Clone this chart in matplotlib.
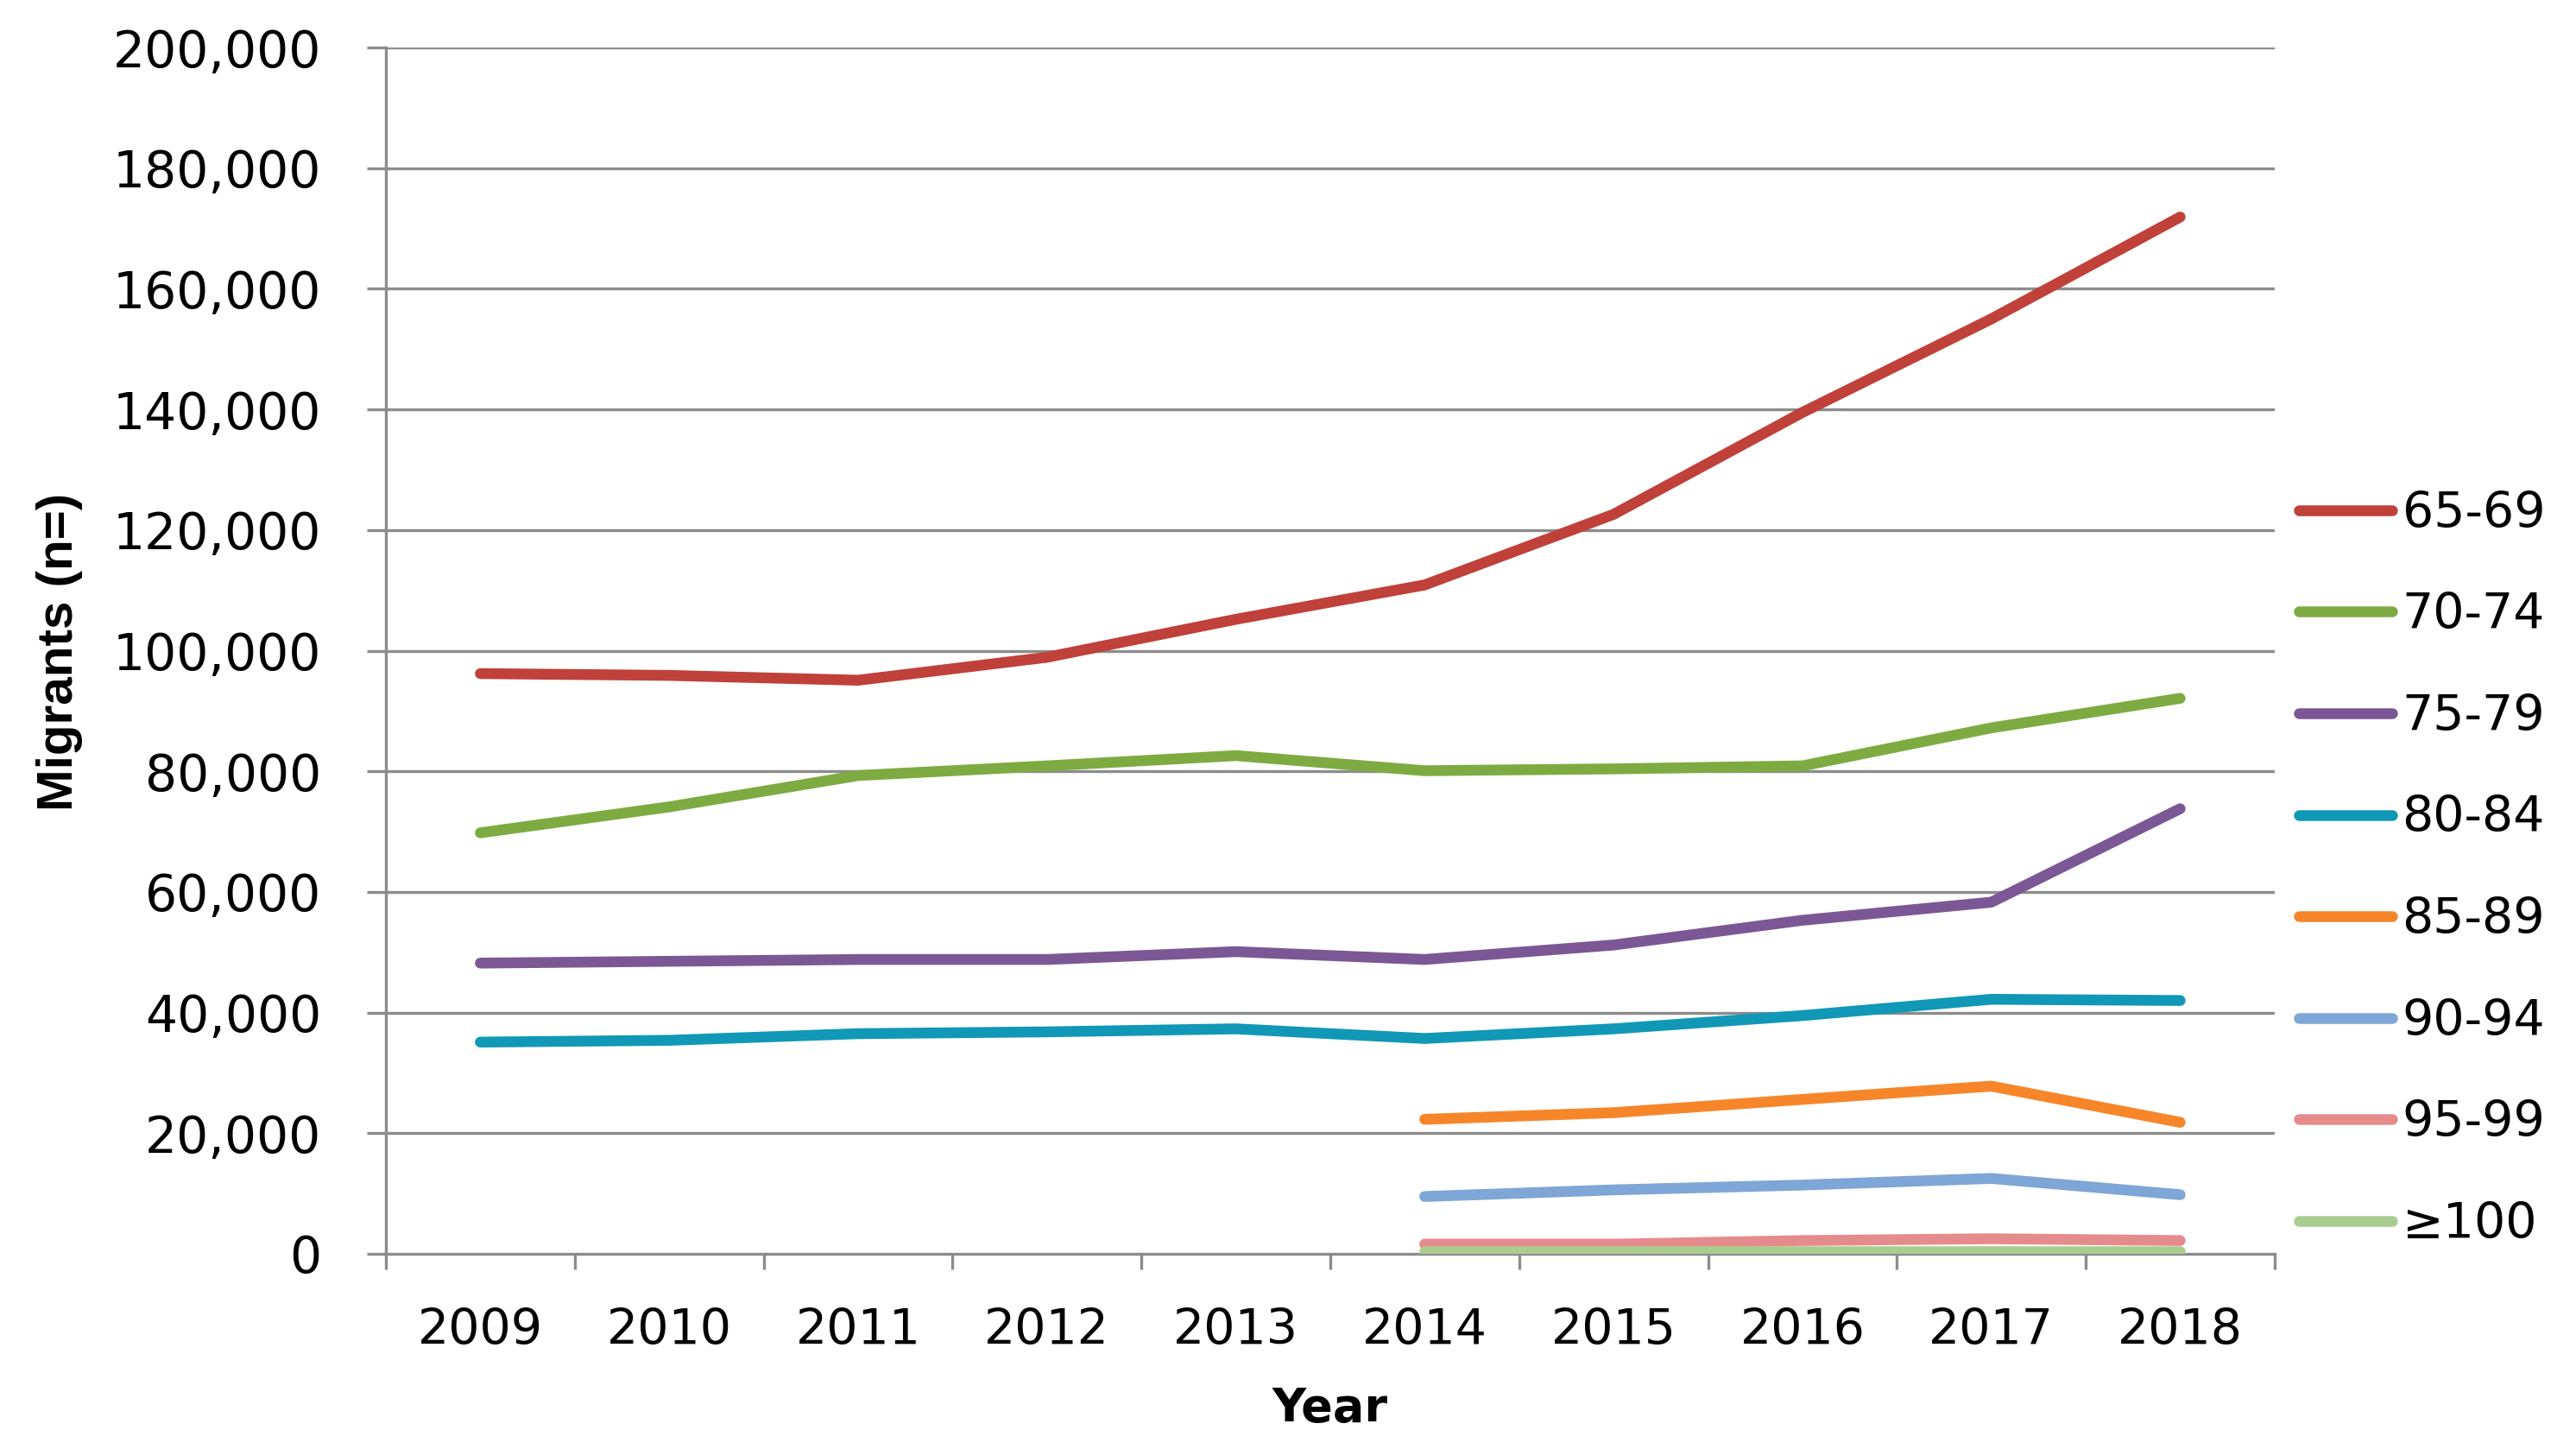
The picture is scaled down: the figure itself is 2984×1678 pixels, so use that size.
import matplotlib
matplotlib.use("Agg")
import matplotlib.pyplot as plt
from matplotlib.ticker import FuncFormatter, FixedLocator

years = [2009, 2010, 2011, 2012, 2013, 2014, 2015, 2016, 2017, 2018]
labels = ["65-69", "70-74", "75-79", "80-84", "85-89", "90-94", "95-99", "\u2265100"]
colors = ["#C0403A", "#7EAB41", "#7B5895", "#1098B6", "#F7862A", "#7EA6D6", "#E68B8C", "#A9CD8E"]

s65 = [96200, 95900, 95100, 98900, 105200, 110900, 122600, 139500, 155000, 171900]
s70 = [69800, 74100, 79300, 80900, 82600, 80100, 80400, 80900, 87200, 92100]
s75 = [48200, 48500, 48800, 48800, 50100, 48800, 51200, 55300, 58300, 73800]
s80 = [35100, 35400, 36500, 36800, 37300, 35700, 37300, 39500, 42200, 42000]
years_late = [2014, 2015, 2016, 2017, 2018]
s85 = [22300, 23400, 25600, 27800, 21800]
s90 = [9500, 10600, 11400, 12500, 9800]
s95 = [1600, 1600, 2200, 2500, 2200]
s100 = [400, 400, 400, 400, 400]

series = [(years, s65), (years, s70), (years, s75), (years, s80),
          (years_late, s85), (years_late, s90), (years_late, s95), (years_late, s100)]

plt.rcParams['font.family'] = ['DejaVu Sans']
fig = plt.figure(figsize=(29.84, 16.78), dpi=100)
ax = fig.add_axes([0.1498, 0.1347, 0.7332, 0.8325])

grid_c = "#8C8C8C"
for yv in range(20000, 200001, 20000):
    ax.axhline(yv, color=grid_c, lw=2.4, zorder=1)

lines = []
for (xs, ys), lab, c in zip(series, labels, colors):
    xi = [years.index(x) for x in xs]
    ln, = ax.plot(xi, ys, color=c, lw=9, label=lab, solid_capstyle='round',
                  solid_joinstyle='round', zorder=3)
    lines.append(ln)

ax.set_xlim(-0.5, 9.5)
ax.set_ylim(0, 200000)
ax.xaxis.set_major_locator(FixedLocator([i - 0.5 for i in range(11)]))
ax.xaxis.set_minor_locator(FixedLocator(list(range(10))))
ax.set_xticklabels([])
ax.set_xticklabels([str(y) for y in years], minor=True)
ax.tick_params(axis='x', which='major', length=13, width=2.4, color=grid_c, direction='out')
ax.tick_params(axis='x', which='minor', length=0, labelsize=41, pad=45)
ax.set_yticks(range(0, 200001, 20000))
ax.yaxis.set_major_formatter(FuncFormatter(lambda v, p: f"{int(v):,}"))
ax.tick_params(axis='y', length=16, width=2.4, color=grid_c, labelsize=42, pad=38)

for sp in ['top', 'right']:
    ax.spines[sp].set_visible(False)
for sp in ['left', 'bottom']:
    ax.spines[sp].set_color(grid_c)
    ax.spines[sp].set_linewidth(2.4)

ax.set_ylabel("Migrants (n=)", fontsize=42, fontweight='bold', family=['Liberation Sans', 'DejaVu Sans'])
ax.yaxis.set_label_coords(-0.173, 0.499)
ax.yaxis.label.set_va('center')
ax.set_xlabel("Year", fontsize=39, fontweight='bold')
ax.xaxis.set_label_coords(0.5, -0.128)
ax.xaxis.label.set_va('center')

fig.legend(handles=lines, labels=labels, loc='center left', bbox_to_anchor=(0.8924, 0.400),
           frameon=False, fontsize=41, handlelength=1.9, handletextpad=0.2,
           labelspacing=1.10, borderpad=0, borderaxespad=0)

fig.savefig("out.png", dpi=100)
